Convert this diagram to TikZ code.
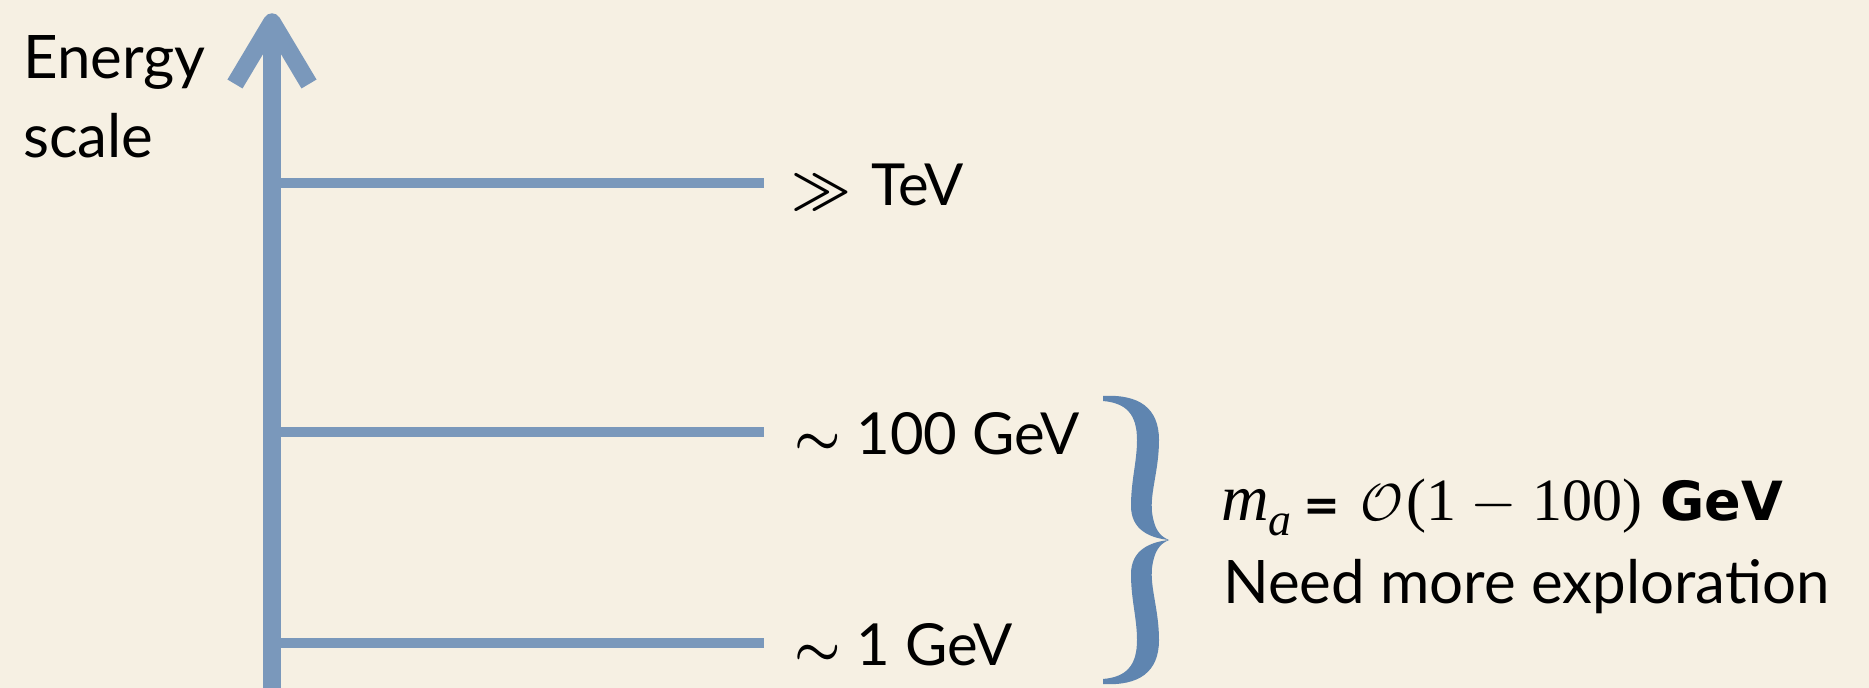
\documentclass[tikz,border=0pt]{standalone}
\usepackage{fix-cm}
\usepackage{fontspec}
\setmainfont{Lato}
\newfontfamily\timesfont{Liberation Serif}
\newfontfamily\heavysans{DejaVu Sans}

\definecolor{paper}{HTML}{F6F0E3}
\definecolor{axisblue}{HTML}{7A98BB}
\definecolor{braceblue}{HTML}{5F85B0}

\begin{document}
\begin{tikzpicture}[x=1pt,y=-1pt,
  axisline/.style={draw=axisblue, line width=17.5pt},
  headline/.style={draw=axisblue, line width=17.5pt, line join=round},
  tickline/.style={draw=axisblue, line width=10.5pt},
  lbl/.style={anchor=base west, inner sep=0pt, font=\fontsize{58}{70}\selectfont},
  serifbit/.style={anchor=base west, inner sep=0pt, font=\timesfont\fontsize{60}{70}\selectfont},
  relsize/.style={font=\fontsize{52}{60}\selectfont},
]
% page
\fill[paper] (0,0) rectangle (1869,688);
\useasboundingbox (0,0) rectangle (1869,688);

% axis title
\node[lbl, font=\fontsize{60}{70}\selectfont] (energy) at (23,78) {Energy};
\node[lbl, font=\fontsize{60}{70}\selectfont] (scale) at (23,157) {scale};

% points on the axis
\coordinate (axbot) at (272,688);
\coordinate (axtip) at (272,22);
\coordinate (barbL) at (235,84);
\coordinate (barbR) at (309,84);

% scale marks
\coordinate (tevA) at (272,183);  \coordinate (tevB) at (764,183);
\coordinate (hunA) at (272,432);  \coordinate (hunB) at (764,432);
\coordinate (oneA) at (272,643);  \coordinate (oneB) at (764,643);
\draw[tickline] (tevA) -- (tevB);
\draw[tickline] (hunA) -- (hunB);
\draw[tickline] (oneA) -- (oneB);

% vertical axis with open arrow head
\draw[axisline] (axbot) -- (axtip);
\draw[headline] (barbL) -- (axtip) -- (barbR);

% scale labels
\node[lbl] (tev) at (791,205) {{\fontsize{52}{60}\selectfont\boldmath$\gg$}\hspace{20pt}TeV};
\node[lbl] (hundred) at (794,454) {{\fontsize{52}{60}\selectfont\boldmath$\sim$}\hspace{16pt}100 GeV};
\node[lbl] (onegev) at (794,665) {{\fontsize{52}{60}\selectfont\boldmath$\sim$}\hspace{16pt}1 GeV};

% curly brace spanning 1--100 GeV
\fill[braceblue] (1103,396) .. controls (1139,394) and (1159,408) .. (1159,440)
  .. controls (1159,470) and (1150,492) .. (1152,512)
  .. controls (1154,528) and (1159,536) .. (1169,540)
  .. controls (1150,538) and (1131,530) .. (1131,506)
  .. controls (1131,480) and (1137,462) .. (1137,440)
  .. controls (1137,414) and (1126,403) .. (1103,401) -- cycle;
\fill[braceblue] (1103,684) .. controls (1139,686) and (1159,672) .. (1159,640)
  .. controls (1159,610) and (1150,588) .. (1152,568)
  .. controls (1154,552) and (1159,544) .. (1169,540)
  .. controls (1150,542) and (1131,550) .. (1131,574)
  .. controls (1131,600) and (1137,618) .. (1137,640)
  .. controls (1137,666) and (1126,677) .. (1103,679) -- cycle;

% mass range statement
\node[anchor=base west, inner sep=0pt] (mname) at (1221,520)
  {\timesfont\itshape\fontsize{66}{70}\selectfont m\raisebox{-15pt}{\fontsize{46}{50}\selectfont a}};
\node[anchor=base west, inner sep=0pt, font=\heavysans\bfseries\fontsize{44}{50}\selectfont] (equals) at (1303,520) {=};
\node[anchor=base west, inner sep=0pt, font=\fontsize{52}{60}\selectfont] (order) at (1360,520) {$\mathcal{O}$};
\node[serifbit] (range) at (1406,520) {(1\hspace{14pt}$-$\hspace{16pt}100)};
\node[anchor=base west, inner sep=0pt, font=\heavysans\bfseries\fontsize{54}{60}\selectfont] (gev) at (1660,520) {GeV};
\node[lbl, font=\fontsize{60}{70}\selectfont] (explore) at (1223,603) {Need more exploration};
\end{tikzpicture}
\end{document}
